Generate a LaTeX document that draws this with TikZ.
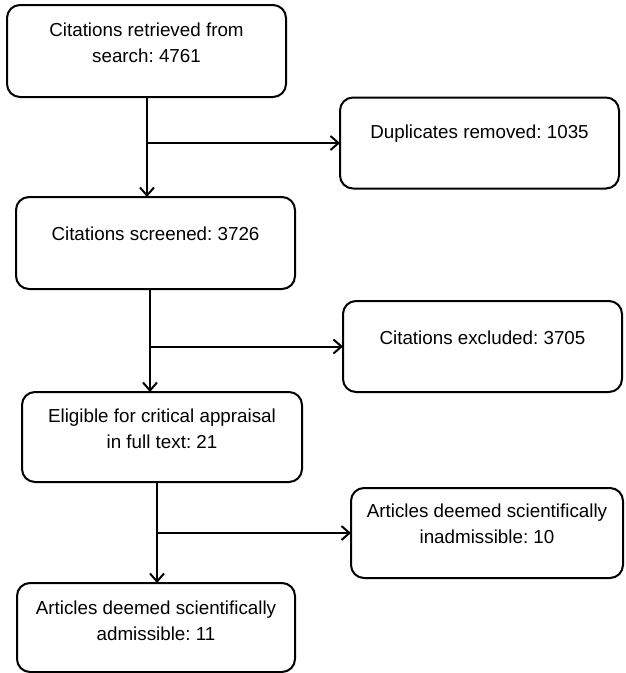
\documentclass[tikz,border=0pt]{standalone}
\usepackage{fontspec}
\setmainfont{Liberation Sans}
\frenchspacing
\usetikzlibrary{arrows.meta}
\begin{document}
\begin{tikzpicture}[x=1pt,y=-1pt,
  box/.style={draw=black, line width=2pt, rounded corners=13pt, inner sep=0pt, outer sep=0pt},
  txt/.style={align=center, inner sep=0pt, font=\fontsize{18.8pt}{26pt}\selectfont},
  arr/.style={line width=2pt, -{Straight Barb[length=8pt,width=14pt,line width=2pt]}},
  ln/.style={line width=2pt}]
\useasboundingbox (0,0) rectangle (625,673);
\node[box, minimum width=279pt, minimum height=92pt] (b1) at (146.5,51) {};
\node[box, minimum width=279pt, minimum height=91pt] (b2) at (479.5,143) {};
\node[box, minimum width=279pt, minimum height=92pt] (b3) at (155.5,243) {};
\node[box, minimum width=279pt, minimum height=91pt] (b4) at (482.5,346.5) {};
\node[box, minimum width=280pt, minimum height=90pt] (b5) at (162,437) {};
\node[box, minimum width=272pt, minimum height=90pt] (b6) at (487,533) {};
\node[box, minimum width=278pt, minimum height=89pt] (b7) at (156,627.5) {};
\node[txt] (t1) at ([yshift=8pt]b1.center) {Citations retrieved from\\search: 4761};
\node[txt] (t2) at ([yshift=9pt]b2.center) {Duplicates removed: 1035};
\node[txt] (t3) at ([yshift=9pt]b3.center) {Citations screened: 3726};
\node[txt] (t4) at ([yshift=9pt]b4.center) {Citations excluded: 3705};
\node[txt] (t5) at ([yshift=8pt]b5.center) {Eligible for critical appraisal\\in full text: 21};
\node[txt] (t6) at ([yshift=9pt]b6.center) {Articles deemed scientifically\\inadmissible: 10};
\node[txt] (t7) at ([yshift=7pt]b7.center) {Articles deemed scientifically\\admissible: 11};
% connectors
\coordinate (v1) at (147,97);
\coordinate (v3) at (150,289);
\coordinate (v5) at (157,482);
\draw[arr] (v1) -- (v1 |- b3.north);
\draw[arr] (v1 |- b2.west) -- (b2.west);
\draw[arr] (v3) -- (v3 |- b5.north);
\draw[arr] (v3 |- b4.west) -- (b4.west);
\draw[arr] (v5) -- (v5 |- b7.north);
\draw[arr] (v5 |- b6.west) -- (b6.west);
\end{tikzpicture}
\end{document}
